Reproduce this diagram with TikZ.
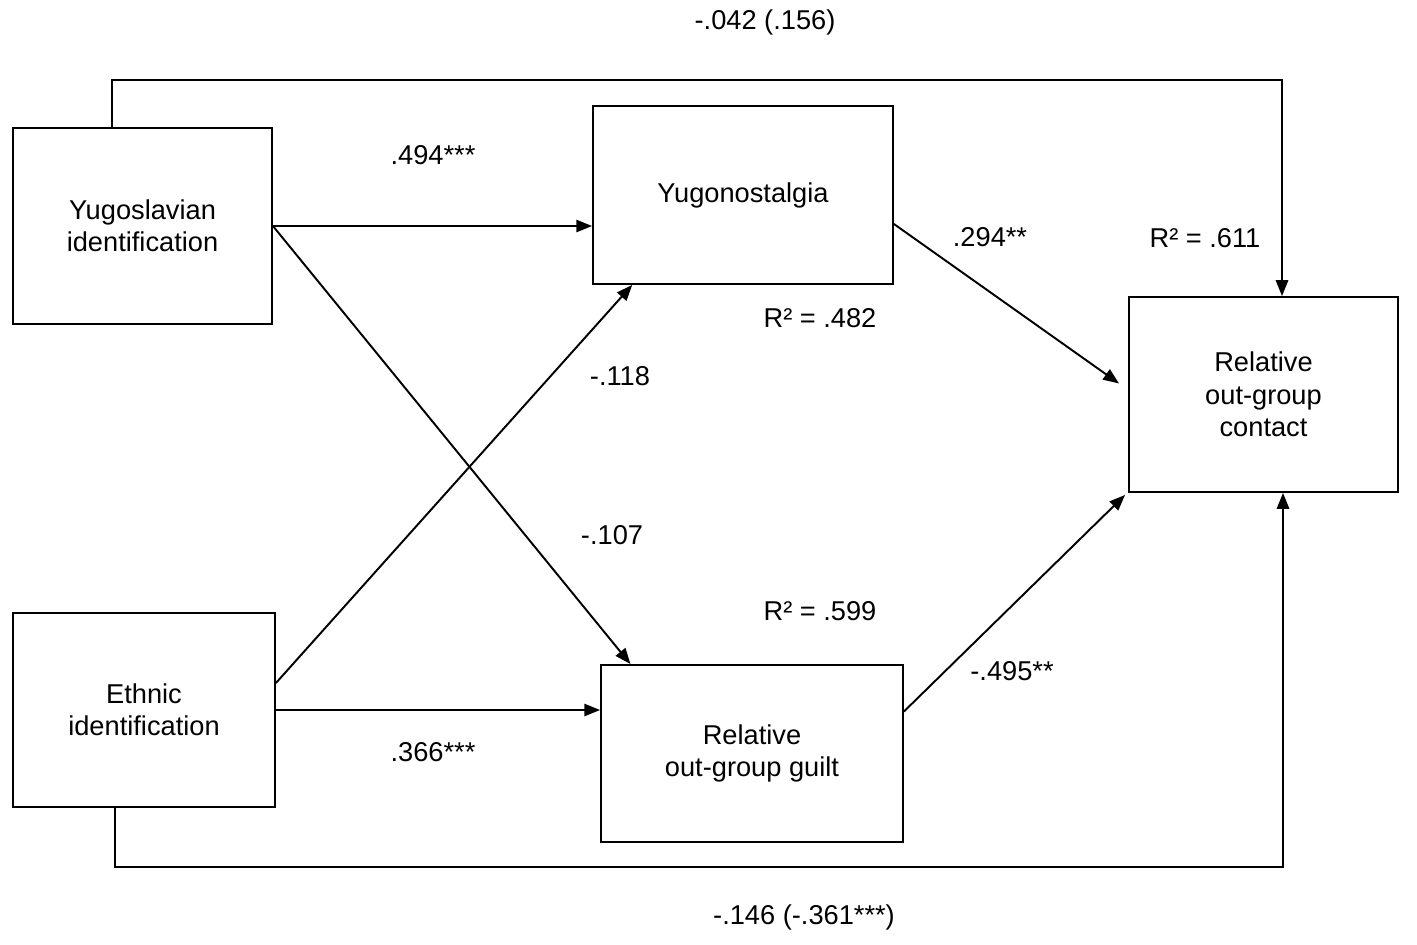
\documentclass[tikz,border=0pt]{standalone}
\usepackage{fontspec}
\setmainfont{Liberation Sans}
\usepackage{tikz}
\usetikzlibrary{arrows.meta,calc,positioning}

\begin{document}
\begin{tikzpicture}[x=0.02cm,y=-0.02cm,
  varbox/.style={draw,line width=1.1pt,inner sep=0pt,align=center,
    font=\fontsize{15.5}{18.5}\selectfont},
  coef/.style={inner sep=0pt,font=\fontsize{15.5}{18.5}\selectfont},
  path/.style={line width=1.1pt,-{Triangle[length=9pt,width=7pt]}}]
\useasboundingbox (0,0) rectangle (1417,944);

% variables
\node[varbox,minimum width=5.18cm,minimum height=3.92cm] (yug) at (142.5,226) {Yugoslavian\\identification};
\node[varbox,minimum width=5.24cm,minimum height=3.88cm] (eth) at (144,710) {Ethnic\\identification};
\node[varbox,minimum width=6cm,minimum height=3.56cm] (nost) at (743,195) {Yugonostalgia};
\node[varbox,minimum width=6.04cm,minimum height=3.54cm] (guilt) at (752,753.5) {Relative\\out-group guilt};
\node[varbox,minimum width=5.38cm,minimum height=3.9cm] (contact) at (1263.5,394.5) {Relative\\out-group\\contact};

% paths
\draw[path] (yug.east) -- (yug.east -| nost.west);
\draw[path] (yug.east) -- ($(guilt.north west)!0.1!(guilt.north east)$);
\draw[path] ($(eth.east)+(0,-27)$) -- ($(nost.south west)!0.133!(nost.south east)$);
\draw[path] (eth.east) -- (eth.east -| guilt.west);
\draw[path] ($(nost.east)+(0,29)$) -- ($(contact.west)+(-9,-11)$);
\draw[path] ($(guilt.east)+(0,-42)$) -- ($(contact.south west)+(-3,2)$);
\draw[path] ($(yug.north)+(-30.5,0)$) |- ($(contact.north)+(18.5,-216)$) -- ($(contact.north)+(18.5,0)$);
\draw[path] ($(eth.south)+(-29,0)$) |- ($(contact.south)+(19.5,374)$) -- ($(contact.south)+(19.5,0)$);

% coefficients
\node[coef] (c1) at (765,22) {-.042 (.156)};
\node[coef] (c2) at (433,155) {.494***};
\node[coef] (c3) at (990,237) {.294**};
\node[coef] (r1) at (1205,238) {R² = .611};
\node[coef] (r2) at (820,318) {R² = .482};
\node[coef] (c4) at (620,376) {-.118};
\node[coef] (c5) at (612,535) {-.107};
\node[coef] (r3) at (820,611) {R² = .599};
\node[coef] (c6) at (1012,671) {-.495**};
\node[coef] (c7) at (433,752) {.366***};
\node[coef] (c8) at (804,917) {-.146 (-.361***)};
\end{tikzpicture}
\end{document}
